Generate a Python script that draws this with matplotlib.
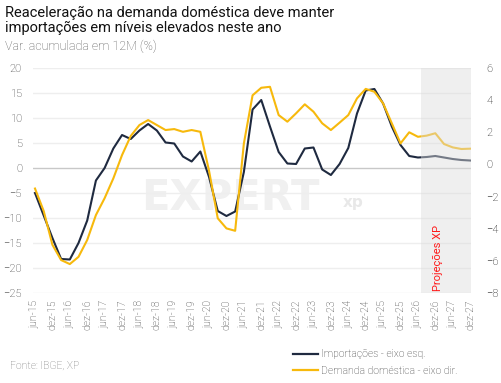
import numpy as np
import matplotlib.pyplot as plt
from matplotlib.lines import Line2D

plt.rcParams['font.family'] = ['Roboto', 'DejaVu Sans']

# Dados trimestrais (jun-15 a dez-27)
importacoes = [-5.0, -9.5, -14.0, -18.2, -18.3, -15.0, -10.5, -2.5, 0.0, 3.9,
               6.6, 5.8, 7.5, 8.8, 7.5, 5.1, 4.9, 2.3, 1.3, 3.3,
               -1.8, -8.6, -9.6, -8.7, -0.8, 11.7, 13.6, 8.3, 3.2, 0.9,
               0.8, 3.9, 4.1, -0.3, -1.4, 0.8, 4.0, 10.9, 15.5, 15.8,
               12.9, 8.3, 4.6, 2.4, 2.1, 2.2, 2.4, 2.1, 1.8, 1.6, 1.5]
demanda = [-1.5, -2.9, -5.0, -5.95, -6.2, -5.75, -4.7, -3.15, -2.1, -0.87,
           0.58, 1.77, 2.45, 2.76, 2.45, 2.14, 2.2, 2.03, 2.14, 2.03,
           -0.4, -3.35, -3.98, -4.13, 1.3, 4.3, 4.77, 4.83, 3.07, 2.66,
           3.18, 3.74, 3.28, 2.56, 2.14, 2.6, 3.07, 4.11, 4.7, 4.52,
           3.8, 2.56, 1.31, 2.0, 1.72, 1.79, 1.94, 1.27, 1.06, 0.96, 0.98]
rotulos = ['jun-15', 'dez-15', 'jun-16', 'dez-16', 'jun-17', 'dez-17', 'jun-18',
           'dez-18', 'jun-19', 'dez-19', 'jun-20', 'dez-20', 'jun-21', 'dez-21',
           'jun-22', 'dez-22', 'jun-23', 'dez-23', 'jun-24', 'dez-24', 'jun-25',
           'dez-25', 'jun-26', 'dez-26', 'jun-27', 'dez-27']
inicio_projecao = 44.3

azul = '#1f2a40'
amarelo = '#f7b90c'
cinza = '#333333'

x = np.arange(len(importacoes))

fig = plt.figure(figsize=(5.02, 3.83), dpi=100)
ax = fig.add_axes([33/502, 1 - 293/383, 438/502, 225/383])
ax2 = ax.twinx()

# marca d'agua
ax.text(22.5, -6.0, 'EXPERT', fontsize=30, fontweight='bold', color='#f0f0f0',
        ha='center', va='center', family='DejaVu Sans', zorder=0)
ax.text(36.5, -6.8, 'xp', fontsize=11, fontweight='bold', color='#e8e8e8',
        ha='center', va='center', family='DejaVu Sans', zorder=0)

ax.plot(x, importacoes, color=azul, lw=1.5, zorder=3)
ax2.plot(x, demanda, color=amarelo, lw=1.5, zorder=3)

ax.set_ylim(-25, 20)
ax.set_yticks(np.arange(-25, 21, 5))
ax2.set_ylim(-8, 6)
ax2.set_yticks(np.arange(-8, 7, 2))
ax.set_xlim(-0.23, 50.1)
ax.set_xticks(np.arange(0, 51, 2))
ax.set_xticklabels(rotulos, rotation=90)

for v in np.arange(-25, 21, 5):
    ax.axhline(v, color='#c8c8c8' if v == 0 else '#eeeeee', lw=1, zorder=1)

ax2.axvspan(inicio_projecao, 50.1, color='#dcdcdc', alpha=0.45, lw=0, zorder=5)
ax2.text(46.3, -7.9, 'Projeções XP', rotation=90, color='#ff1a1a', fontsize=8,
         ha='center', va='bottom', zorder=6)

for a in (ax, ax2):
    for s in a.spines.values():
        s.set_visible(False)
    a.tick_params(length=0, labelsize=8, colors=cinza)
    for lbl in a.get_xticklabels() + a.get_yticklabels():
        lbl.set_fontweight('light')
ax.tick_params(axis='y', pad=8)
ax.tick_params(axis='x', pad=5, labelsize=7.5)
ax2.tick_params(axis='y', pad=11, colors='#111111')

fig.text(0.01, 0.985, 'Reaceleração na demanda doméstica deve manter\nimportações em níveis elevados neste ano',
         fontsize=10.5, color='#111111', va='top', ha='left', linespacing=1.1)
fig.text(0.01, 0.895, 'Var. acumulada em 12M (%)', fontsize=9, color='#555555',
         fontweight='light', va='top', ha='left')
fig.text(0.02, 0.045, 'Fonte: IBGE, XP', fontsize=7.5, color='#777777',
         fontweight='light', va='center', ha='left')

handles = [Line2D([], [], color=azul, lw=1.6), Line2D([], [], color=amarelo, lw=1.6)]
fig.legend(handles, ['Importações - eixo esq.', 'Demanda doméstica - eixo dir.'],
           loc='lower left', bbox_to_anchor=(0.565, -0.005), frameon=False,
           prop={'size': 7.5, 'weight': 'light'}, labelcolor='#333333',
           handlelength=2.4, handletextpad=0.3, labelspacing=0.6)

fig.savefig('out.png', dpi=100)
